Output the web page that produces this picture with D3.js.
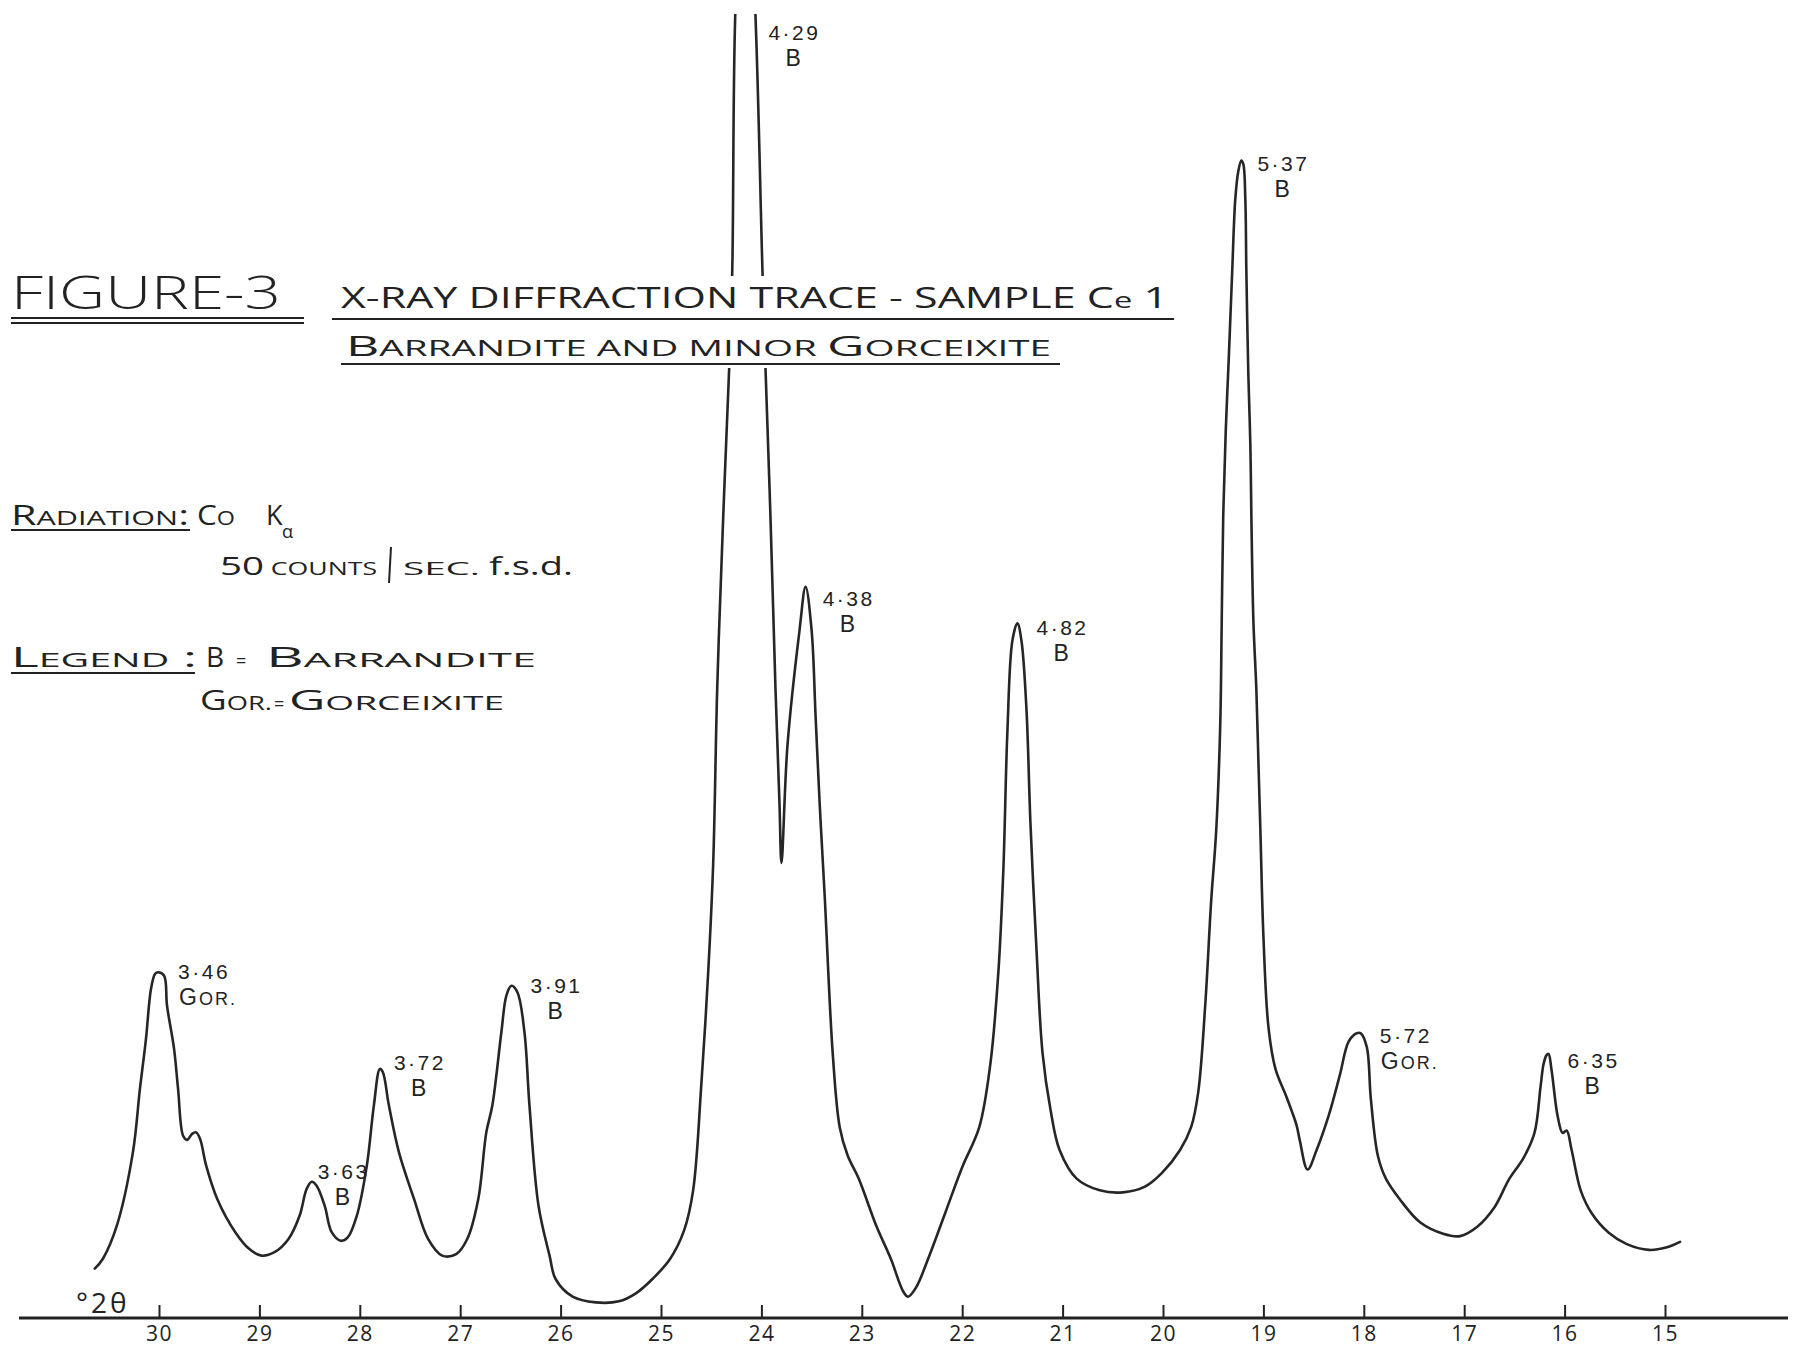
<!DOCTYPE html>
<html>
<head>
<meta charset="utf-8">
<script src="https://cdn.jsdelivr.net/npm/d3@7"></script>
<style>
  html, body { margin: 0; padding: 0; background: #ffffff; }
  svg { display: block; }
  text { font-family: "Open Sans", "DejaVu Sans", sans-serif; fill: #222; }
</style>
</head>
<body>
<script>
// ---------------- DATA ----------------
// Diffraction trace: 2-theta (degrees) and intensity (counts / sec)
const traceTheta = [
  30.64, 30.56, 30.42, 30.26, 30.19, 30.13, 30.08, 30.04, 30.01, 29.95, 29.92, 29.85, 29.81, 29.76, 29.72,
  29.67, 29.63, 29.59, 29.53, 29.42, 29.24, 29.10, 28.98, 28.85, 28.71, 28.60, 28.53, 28.48, 28.43, 28.35,
  28.28, 28.19, 28.12, 28.03, 27.93, 27.86, 27.80, 27.77, 27.71, 27.61, 27.46, 27.32, 27.18, 27.04, 26.93,
  26.82, 26.74, 26.68, 26.59, 26.54, 26.49, 26.43, 26.36, 26.31, 26.22, 26.11, 26.05, 25.88, 25.65, 25.42,
  25.25, 25.08, 24.91, 24.77, 24.68, 24.60, 24.53, 24.48, 24.44, 24.38, 24.32, 24.29, 24.26, 24.16, 24.06,
  23.99, 23.96, 23.91, 23.86, 23.82, 23.80, 23.74, 23.62, 23.56, 23.50, 23.46, 23.42, 23.37, 23.29, 23.22,
  23.14, 23.03, 22.86, 22.71, 22.59, 22.54, 22.46, 22.34, 22.17, 22.00, 21.83, 21.72, 21.64, 21.59, 21.55,
  21.50, 21.45, 21.41, 21.36, 21.32, 21.26, 21.20, 21.12, 21.03, 20.86, 20.63, 20.40, 20.18, 20.01, 19.83,
  19.72, 19.65, 19.58, 19.52, 19.47, 19.43, 19.415, 19.40, 19.375, 19.345, 19.31, 19.28, 19.25, 19.22, 19.20,
  19.18, 19.17, 19.15, 19.13, 19.12, 19.10, 19.07, 19.05, 19.03, 19.00, 18.95, 18.88, 18.77, 18.67, 18.64,
  18.56, 18.47, 18.35, 18.24, 18.15, 18.07, 18.03, 17.97, 17.93, 17.86, 17.78, 17.64, 17.44, 17.21, 17.04,
  16.87, 16.70, 16.55, 16.41, 16.30, 16.24, 16.21, 16.18, 16.16, 16.13, 16.07, 16.02, 15.98, 15.93, 15.84,
  15.73, 15.56, 15.38, 15.16, 14.99, 14.85
];
const traceCounts = [
  1.90, 2.27, 3.55, 6.37, 8.81, 10.73, 12.65, 13.23, 13.30, 13.17, 12.01, 10.35, 8.81, 7.01, 6.85,
  7.08, 7.14, 6.88, 5.86, 4.58, 3.30, 2.65, 2.40, 2.53, 3.04, 3.93, 4.96, 5.24, 5.09, 4.32,
  3.30, 2.97, 3.10, 3.93, 5.86, 8.17, 9.58, 9.45, 8.17, 6.37, 4.58, 3.04, 2.40, 2.46, 3.04,
  4.58, 7.14, 8.17, 10.99, 12.40, 12.78, 12.53, 10.99, 8.17, 4.32, 2.40, 1.50, 0.82, 0.60, 0.64,
  0.95, 1.52, 2.27, 3.37, 4.91, 8.88, 13.29, 17.50, 24.23, 30.85, 36.62, 40.35, 50.19, 58.00, 50.19,
  40.35, 36.62, 30.85, 24.23, 19.81, 17.50, 22.04, 26.46, 28.12, 26.46, 23.12, 19.81, 16.27, 10.20, 7.34,
  6.24, 5.36, 3.59, 2.27, 1.04, 0.82, 1.17, 2.27, 4.03, 5.80, 7.34, 9.76, 13.29, 17.25, 22.54,
  26.06, 26.72, 26.06, 23.42, 19.01, 14.17, 10.20, 8.00, 6.46, 5.36, 4.91, 4.83, 5.05, 5.58, 6.46,
  7.34, 8.66, 12.00, 16.05, 18.75, 22.80, 26.85, 30.89, 34.13, 36.90, 40.33, 43.03, 44.11, 44.52, 44.38,
  43.03, 40.33, 36.29, 33.59, 30.89, 26.85, 24.15, 21.45, 18.75, 14.70, 11.20, 9.58, 8.50, 7.42, 6.88,
  5.71, 6.46, 7.78, 9.32, 10.64, 10.95, 10.95, 10.42, 8.44, 6.24, 5.36, 4.56, 3.68, 3.24, 3.15,
  3.51, 4.25, 5.36, 6.15, 7.12, 8.88, 9.76, 10.11, 10.16, 9.54, 7.78, 7.12, 7.21, 6.46, 4.91,
  4.03, 3.28, 2.84, 2.62, 2.71, 2.93
];

const tickValues = [30, 29, 28, 27, 26, 25, 24, 23, 22, 21, 20, 19, 18, 17, 16, 15];

// Peak annotations: d-spacing, mineral, and the (2-theta, counts) point where the label sits
const peakD       = ["3·46", "3·63", "3·72", "3·91", "4·29", "4·38", "4·82", "5·37", "5·72", "6·35"];
const peakMineral = ["GOR.", "B",    "B",    "B",    "B",    "B",    "B",    "B",    "GOR.", "B"];
const labelTheta  = [29.81, 28.42, 27.66, 26.30, 23.93, 23.39, 21.26, 19.06, 17.84, 15.97];
const labelCounts = [13.0,  5.31,  9.50,  12.46, 49.12, 27.35, 26.23, 44.08, 10.54, 9.58];

// ---------------- CHART ----------------
const W = 1796, H = 1359;
const axisY = 1318;
const ink = "#222";

const svg = d3.select("body").append("svg")
  .attr("width", W).attr("height", H)
  .attr("viewBox", `0 0 ${W} ${H}`);

svg.append("rect").attr("width", W).attr("height", H).attr("fill", "#fff");

const x = d3.scaleLinear().domain([30, 15]).range([159, 1665]);
const y = d3.scaleLinear().domain([0, 50]).range([axisY, axisY - 1300]);

const defs = svg.append("defs");
// clip the off-scale main peak at the top edge of the chart paper
defs.append("clipPath").attr("id", "paper")
  .append("rect").attr("x", 0).attr("y", 14).attr("width", W).attr("height", H - 14);
// trace is interrupted where the title block is lettered
const mask = defs.append("mask").attr("id", "titleGap")
  .attr("maskUnits", "userSpaceOnUse").attr("x", 0).attr("y", 0).attr("width", W).attr("height", H);
mask.append("rect").attr("width", W).attr("height", H).attr("fill", "#fff");
mask.append("rect").attr("x", 330).attr("y", 276).attr("width", 850).attr("height", 92).attr("fill", "#000");

const pts = traceTheta.map((t, i) => [t, traceCounts[i]]);
const line = d3.line()
  .x(d => x(d[0]))
  .y(d => y(d[1]))
  .curve(d3.curveCatmullRom.alpha(0.5));

svg.append("g").attr("mask", "url(#titleGap)")
  .append("path")
  .attr("d", line(pts))
  .attr("clip-path", "url(#paper)")
  .attr("fill", "none")
  .attr("stroke", "#262626")
  .attr("stroke-width", 2.6)
  .attr("stroke-linejoin", "round")
  .attr("stroke-linecap", "round");

// x axis: ticks point upward, labels below
const xAxis = d3.axisBottom(x)
  .tickValues(tickValues)
  .tickSizeInner(-13)
  .tickSizeOuter(0)
  .tickPadding(8)
  .tickFormat(d3.format("d"));

const gAxis = svg.append("g").attr("transform", `translate(0,${axisY})`).call(xAxis);
gAxis.select(".domain").remove();
gAxis.selectAll(".tick line").attr("stroke", ink).attr("stroke-width", 2);
gAxis.selectAll(".tick text")
  .attr("fill", ink)
  .style("font-family", "'Open Sans', sans-serif")
  .style("font-size", "21px")
  .style("letter-spacing", "1.5px");
gAxis.append("line")
  .attr("x1", 19).attr("x2", 1788).attr("y1", 0).attr("y2", 0)
  .attr("stroke", ink).attr("stroke-width", 3);

svg.append("text").attr("x", 76).attr("y", 1313)
  .style("font-size", "28px").style("letter-spacing", "3px").text("°2θ");

// peak labels: d-spacing on one line, mineral on the line below
const labelFont = "'Liberation Sans', Arial, sans-serif";
peakD.forEach((d, i) => {
  const lx = x(labelTheta[i]), ly = y(labelCounts[i]);
  const isB = peakMineral[i] === "B";
  svg.append("text").attr("x", lx).attr("y", ly - 1)
    .style("font-family", labelFont)
    .style("font-size", "21px").style("letter-spacing", "2.5px").text(d);
  const t2 = svg.append("text").attr("y", ly + 25)
    .style("font-family", labelFont).style("letter-spacing", "2px");
  if (isB) {
    t2.attr("x", lx + 17).style("font-size", "23px").text("B");
  } else {
    t2.attr("x", lx + 1);
    t2.append("tspan").style("font-size", "23px").text("G");
    t2.append("tspan").style("font-size", "18px").text("OR.");
  }
});

// helper to write mixed-size (small caps style) text
function mixed(xp, yp, parts, len, family, weight) {
  const t = svg.append("text").attr("x", xp).attr("y", yp);
  if (family) t.style("font-family", family);
  if (weight) t.style("font-weight", weight);
  if (len) t.attr("textLength", len).attr("lengthAdjust", "spacingAndGlyphs");
  parts.forEach(p => t.append("tspan").style("font-size", p[1] + "px").text(p[0]));
  return t;
}
function rule(x1, x2, yy, w) {
  svg.append("line").attr("x1", x1).attr("x2", x2).attr("y1", yy).attr("y2", yy)
    .attr("stroke", ink).attr("stroke-width", w || 2);
}

// Figure number
mixed(11, 309, [["FIGURE-3", 46]], 270, "'Open Sans', sans-serif", 300);
rule(11, 304, 318, 2);
rule(11, 304, 323, 2);

// Titles
mixed(341, 308, [["X-RAY DIFFRACTION TRACE - SAMPLE C", 29], ["e", 22], [" 1", 29]], 827);
rule(332, 1174, 319, 2);
mixed(346, 356, [["B", 28], ["ARRANDITE AND MINOR ", 21], ["G", 28], ["ORCEIXITE", 21]], 705);
rule(341, 1060, 364, 2);

// Radiation block
mixed(11, 525, [["R", 27], ["ADIATION", 20], [":", 27]], 178);
rule(11, 190, 530, 2);
mixed(197, 525, [["C", 27], ["O", 20]], 38);
mixed(266, 525, [["K", 27]]);
mixed(282, 538, [["α", 18]]);
mixed(220, 575, [["50", 26], [" COUNTS", 18]], 157);
svg.append("line").attr("x1", 391).attr("x2", 389).attr("y1", 547).attr("y2", 583)
  .attr("stroke", ink).attr("stroke-width", 2);
mixed(403, 575, [["SEC.", 18]], 77);
mixed(489, 575, [["f.s.d.", 26]], 84);

// Legend block
mixed(11, 667, [["L", 27], ["EGEND", 20], [" :", 27]], 186);
rule(11, 195, 673, 2);
mixed(206, 667, [["B", 28]]);
mixed(236, 667, [["=", 18]]);
mixed(266, 667, [["B", 27], ["ARRANDITE", 20]], 270);
mixed(200, 710, [["G", 27], ["OR.", 20]], 72);
mixed(274, 710, [["=", 18]]);
mixed(289, 710, [["G", 27], ["ORCEIXITE", 20]], 215);
</script>
</body>
</html>
